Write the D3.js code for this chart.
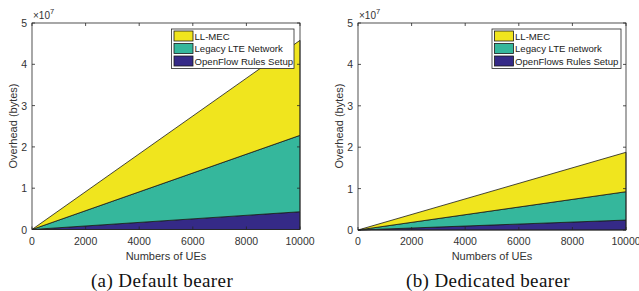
<!DOCTYPE html>
<html>
<head>
<meta charset="utf-8">
<script src="https://cdn.jsdelivr.net/npm/d3@7"></script>
<style>
  body { margin: 0; background: #fff; }
  svg { display: block; }
  text { font-family: "Liberation Sans", Arial, sans-serif; }
  text.caption { font-family: "Liberation Serif", "Times New Roman", serif; letter-spacing: 0.4px; }
</style>
</head>
<body>
<svg id="fig" width="639" height="291"></svg>
<script>
// number of UEs (x)
var ues = [0, 10000];

// (a) default bearer, bytes
var defOpenFlow = [0, 0.43e7];
var defLegacy = [0, 1.85e7];
var defLLMEC = [0, 2.30e7];

// (b) dedicated bearer, bytes
var dedOpenFlow = [0, 0.24e7];
var dedLegacy = [0, 0.685e7];
var dedLLMEC = [0, 0.952e7];

var xTicks = [0, 2000, 4000, 6000, 8000, 10000];
var yTicks = [0, 1e7, 2e7, 3e7, 4e7, 5e7];

var defNames = ["LL-MEC", "Legacy LTE Network", "OpenFlow Rules Setup"];
var dedNames = ["LL-MEC", "Legacy LTE network", "OpenFlows Rules Setup"];
var colors = ["#f0e51e", "#35b79c", "#352a87"];

var svg = d3.select("#fig");

function drawPanel(opts) {
  var g = svg.append("g");
  var x = d3.scaleLinear().domain([0, 10000]).range([opts.left, opts.right]);
  var y = d3.scaleLinear().domain([0, 5e7]).range([opts.bottom, opts.top]);

  // stack bottom-up: openflow, legacy, llmec
  var rows = ues.map(function (u, i) {
    return { x: u, a: opts.openflow[i], b: opts.legacy[i], c: opts.llmec[i] };
  });
  var series = d3.stack().keys(["a", "b", "c"])(rows);
  var fills = [colors[2], colors[1], colors[0]];

  var area = d3.area()
    .x(function (d) { return x(d.data.x); })
    .y0(function (d) { return y(d[0]); })
    .y1(function (d) { return y(d[1]); });

  g.selectAll(".layer")
    .data(series)
    .enter()
    .append("path")
    .attr("d", area)
    .attr("fill", function (d, i) { return fills[i]; })
    .attr("stroke", "#1a1a1a")
    .attr("stroke-width", 0.8);

  // axes box with inward ticks
  var ax = "#262626";
  g.append("rect")
    .attr("x", opts.left).attr("y", opts.top)
    .attr("width", opts.right - opts.left)
    .attr("height", opts.bottom - opts.top)
    .attr("fill", "none").attr("stroke", ax).attr("stroke-width", 0.8);

  xTicks.forEach(function (t) {
    g.append("line").attr("x1", x(t)).attr("x2", x(t))
      .attr("y1", opts.bottom).attr("y2", opts.bottom - 3)
      .attr("stroke", ax).attr("stroke-width", 0.8);
    g.append("line").attr("x1", x(t)).attr("x2", x(t))
      .attr("y1", opts.top).attr("y2", opts.top + 3)
      .attr("stroke", ax).attr("stroke-width", 0.8);
    g.append("text").attr("x", x(t)).attr("y", opts.bottom + 15)
      .attr("text-anchor", "middle").attr("font-size", "10.5px")
      .attr("fill", "#333").text(t);
  });
  yTicks.forEach(function (t) {
    g.append("line").attr("x1", opts.left).attr("x2", opts.left + 3)
      .attr("y1", y(t)).attr("y2", y(t))
      .attr("stroke", ax).attr("stroke-width", 0.8);
    g.append("line").attr("x1", opts.right).attr("x2", opts.right - 3)
      .attr("y1", y(t)).attr("y2", y(t))
      .attr("stroke", ax).attr("stroke-width", 0.8);
    g.append("text").attr("x", opts.left - 5).attr("y", y(t) + 4)
      .attr("text-anchor", "end").attr("font-size", "10.5px")
      .attr("fill", "#333").text(t / 1e7);
  });

  // exponent label
  var ex = g.append("text").attr("x", opts.left + 1).attr("y", opts.top - 4)
    .attr("font-size", "10px").attr("fill", "#333");
  ex.append("tspan").text("\u00d710");
  ex.append("tspan").attr("dy", -5).attr("font-size", "7.5px").text("7");

  // axis labels
  g.append("text").attr("x", (opts.left + opts.right) / 2).attr("y", opts.bottom + 30)
    .attr("text-anchor", "middle").attr("font-size", "11px").attr("fill", "#333")
    .text("Numbers of UEs");
  g.append("text")
    .attr("transform", "translate(" + (opts.left - 15) + "," + 126 + ") rotate(-90)")
    .attr("text-anchor", "middle").attr("font-size", "11px").attr("fill", "#333")
    .text("Overhead (bytes)");

  // legend
  var lg = g.append("g");
  lg.append("rect").attr("x", opts.legX).attr("y", 29)
    .attr("width", opts.legW).attr("height", 39.5)
    .attr("fill", "#fff").attr("stroke", ax).attr("stroke-width", 0.8);
  opts.names.forEach(function (n, i) {
    var cy = 36 + i * 12.5;
    lg.append("rect").attr("x", opts.legX + 2.5).attr("y", cy - 5)
      .attr("width", 19).attr("height", 10)
      .attr("fill", colors[i]).attr("stroke", "#1a1a1a").attr("stroke-width", 0.8);
    lg.append("text").attr("x", opts.legX + 23).attr("y", cy + 3.5)
      .attr("font-size", "9.6px").attr("fill", "#222").text(n);
  });

  // caption
  g.append("text").attr("class", "caption")
    .attr("x", opts.capX).attr("y", 286.5)
    .attr("text-anchor", "middle").attr("font-size", "19px")
    .attr("fill", "#111").text(opts.caption);
}

drawPanel({
  left: 32, right: 300, top: 23, bottom: 229.5,
  openflow: defOpenFlow, legacy: defLegacy, llmec: defLLMEC,
  names: defNames, legX: 171.5, legW: 122.5,
  caption: "(a) Default bearer", capX: 162
});

drawPanel({
  left: 358, right: 626, top: 23, bottom: 230,
  openflow: dedOpenFlow, legacy: dedLegacy, llmec: dedLLMEC,
  names: dedNames, legX: 492, legW: 129,
  caption: "(b) Dedicated bearer", capX: 488
});
</script>
</body>
</html>
